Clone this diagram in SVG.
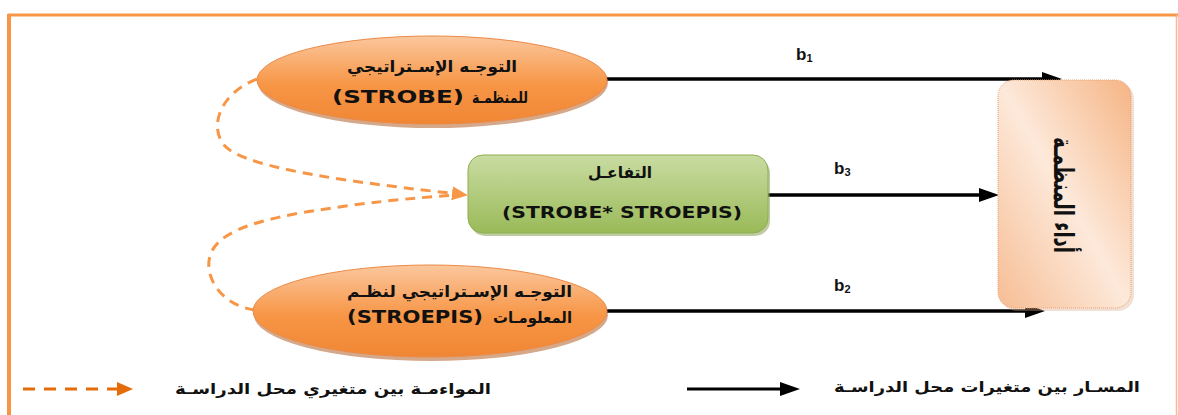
<svg xmlns="http://www.w3.org/2000/svg" width="1178" height="415" viewBox="0 0 1178 415">
<defs>
<style>
.ar{font-family:"DejaVu Sans","Noto Sans",sans-serif;font-weight:bold;fill:#111}
.la{font-family:"DejaVu Sans","Liberation Sans",sans-serif;font-weight:bold;fill:#111}
.b{font-family:"Liberation Sans",Arial,sans-serif;font-weight:bold;fill:#111}
.solid{stroke:#000;stroke-width:3.5;fill:none}
.dash{stroke:#f79646;stroke-width:3;fill:none;stroke-dasharray:10 7}
</style>
<linearGradient id="gEll" x1="0" y1="0" x2="0" y2="1">
<stop offset="0" stop-color="#fbc79e"/>
<stop offset="0.55" stop-color="#f79646"/>
<stop offset="1" stop-color="#f08634"/>
</linearGradient>
<linearGradient id="gGreen" x1="0" y1="0" x2="0" y2="1">
<stop offset="0" stop-color="#c9dca2"/>
<stop offset="1" stop-color="#9aba58"/>
</linearGradient>
<linearGradient id="gBox" x1="1" y1="0" x2="0" y2="1">
<stop offset="0" stop-color="#f5b484"/>
<stop offset="0.5" stop-color="#fde9da"/>
<stop offset="1" stop-color="#f6bd94"/>
</linearGradient>
<marker id="ah" markerUnits="userSpaceOnUse" markerWidth="20" markerHeight="14" refX="10" refY="7" orient="auto">
<path d="M0,0 L20,7 L0,14 z" fill="#000"/>
</marker>
<marker id="ahO" markerUnits="userSpaceOnUse" markerWidth="16" markerHeight="14" refX="6" refY="7" orient="auto">
<path d="M0,0 L16,7 L0,14 z" fill="#f79646"/>
</marker>
<marker id="ahL" markerUnits="userSpaceOnUse" markerWidth="16" markerHeight="14" refX="6" refY="7" orient="auto">
<path d="M0,0 L16,7 L0,14 z" fill="#e46c0a"/>
</marker>
</defs>
<rect width="1178" height="415" fill="#fff"/>
<g id="frame">
<line x1="8" y1="15" x2="1178" y2="15" stroke="#f79646" stroke-width="3"/>
<line x1="9" y1="14" x2="9" y2="415" stroke="#f79646" stroke-width="4"/>
<line x1="1176.5" y1="15" x2="1176.5" y2="415" stroke="#f8b890" stroke-width="1.5"/>
</g>
<g id="connectors">
<line class="solid" x1="606" y1="79" x2="1052" y2="79" marker-end="url(#ah)"/>
<line class="solid" x1="768" y1="195" x2="989" y2="195" marker-end="url(#ah)"/>
<line class="solid" x1="606" y1="311" x2="1035" y2="311" marker-end="url(#ah)"/>
<path class="dash" d="M257,79 C222,92 208,125 224,145 C245,170 370,184 458,194" marker-end="url(#ahO)"/>
<path class="dash" d="M255,310 C220,305 204,276 210,256 C216,234 250,222 300,213 C360,203 410,198 458,195"/>
</g>
<g id="labels">
<text class="b" x="796" y="60" font-size="17">b<tspan font-size="11" dy="2">1</tspan></text>
<text class="b" x="834" y="174" font-size="17">b<tspan font-size="11" dy="2">3</tspan></text>
<text class="b" x="834" y="291" font-size="17">b<tspan font-size="11" dy="2">2</tspan></text>
</g>
<g id="node-strobe">
<ellipse cx="433" cy="83" rx="175" ry="45" fill="#b4612a" opacity="0.55"/>
<ellipse cx="432" cy="80" rx="175" ry="44" fill="url(#gEll)" stroke="#ec8a45" stroke-width="1"/>
<text class="ar" x="347" y="72" font-size="16" textLength="170" lengthAdjust="spacingAndGlyphs">التوجـه الإسـتراتيجي</text>
<text class="la" x="332" y="103" font-size="18" textLength="132" lengthAdjust="spacingAndGlyphs">(STROBE)</text>
<text class="ar" x="472" y="103" font-size="16" textLength="56" lengthAdjust="spacingAndGlyphs">للمنظمـة</text>
</g>
<g id="node-interaction">
<rect x="470" y="158" width="300" height="78" rx="15" fill="#7f9a45" opacity="0.5"/>
<rect x="468" y="155" width="300" height="78" rx="15" fill="url(#gGreen)" stroke="#8fae52" stroke-width="1"/>
<text class="ar" x="588" y="178" font-size="16" textLength="64" lengthAdjust="spacingAndGlyphs">التفاعـل</text>
<text class="la" x="502" y="218" font-size="16" textLength="240" lengthAdjust="spacingAndGlyphs">(STROBE* STROEPIS)</text>
</g>
<g id="node-stroepis">
<ellipse cx="431" cy="315" rx="177" ry="46" fill="#b4612a" opacity="0.55"/>
<ellipse cx="430" cy="311" rx="177" ry="46" fill="url(#gEll)" stroke="#ec8a45" stroke-width="1"/>
<text class="ar" x="347" y="297" font-size="16" textLength="225" lengthAdjust="spacingAndGlyphs">التوجـه الإسـتراتيجي لنظـم</text>
<text class="la" x="347" y="323" font-size="18" textLength="136" lengthAdjust="spacingAndGlyphs">(STROEPIS)</text>
<text class="ar" x="493" y="323" font-size="16" textLength="79" lengthAdjust="spacingAndGlyphs">المعلومـات</text>
</g>
<g id="node-performance">
<rect x="1001" y="83" width="133" height="228" rx="16" fill="#d9a585" opacity="0.35"/>
<rect x="998" y="80" width="133" height="228" rx="16" fill="url(#gBox)" stroke="#e5a273" stroke-width="1" stroke-dasharray="1 1"/>
<text class="ar" transform="translate(1064,195) rotate(90)" x="0" y="10" font-size="28" text-anchor="middle" textLength="116" lengthAdjust="spacingAndGlyphs">أداء المنظمـة</text>
</g>
<g id="legend">
<line x1="23" y1="389" x2="123" y2="389" stroke="#e46c0a" stroke-width="3" stroke-dasharray="12 9" marker-end="url(#ahL)"/>
<text class="ar" x="175" y="394" font-size="15" textLength="316" lengthAdjust="spacingAndGlyphs">المواءمـة بين متغيري محل  الدراسـة</text>
<line x1="687" y1="389" x2="790" y2="389" stroke="#000" stroke-width="3" marker-end="url(#ah)"/>
<text class="ar" x="834" y="392" font-size="15" textLength="306" lengthAdjust="spacingAndGlyphs">المسـار بين متغيرات محل الدراسـة</text>
</g>
</svg>
